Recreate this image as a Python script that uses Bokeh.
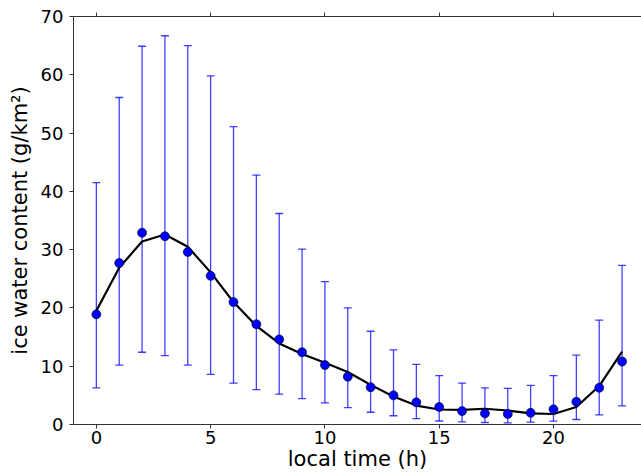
from bokeh.plotting import figure
from bokeh.models import ColumnDataSource, Whisker, TeeHead, LinearAxis, Range1d, FixedTicker
from bokeh.embed import file_html
from bokeh.resources import INLINE

hours = list(range(24))
iwc_mean = [18.9, 27.7, 32.9, 32.3, 29.6, 25.5, 21.0, 17.2, 14.6, 12.4, 10.2, 8.2,
            6.4, 5.0, 3.8, 3.0, 2.3, 1.9, 1.8, 2.0, 2.6, 3.9, 6.3, 10.8]
iwc_upper = [41.5, 56.1, 64.9, 66.7, 65.0, 59.8, 51.1, 42.8, 36.2, 30.1, 24.5, 20.0,
             16.0, 12.8, 10.3, 8.4, 7.1, 6.3, 6.2, 6.7, 8.4, 11.9, 17.9, 27.3]
iwc_lower = [6.3, 10.2, 12.4, 11.8, 10.2, 8.6, 7.1, 6.0, 5.2, 4.45, 3.7, 2.9,
             2.1, 1.5, 1.0, 0.6, 0.45, 0.34, 0.28, 0.4, 0.57, 0.86, 1.65, 3.2]
iwc_fit = [19.5, 26.9, 31.4, 32.6, 30.5, 26.1, 21.0, 16.9, 13.9, 12.1, 10.6, 9.0,
           6.8, 4.8, 3.25, 2.57, 2.5, 2.7, 2.4, 1.9, 1.8, 3.0, 6.6, 12.5]
x_ticks = [0, 5, 10, 15, 20]
y_ticks = [0, 10, 20, 30, 40, 50, 60, 70]

src = ColumnDataSource(dict(x=hours, y=iwc_mean, up=iwc_upper, lo=iwc_lower))

p = figure(width=641, height=476, output_backend="svg", toolbar_location=None,
           x_range=Range1d(-1, 23.85), y_range=Range1d(0, 70),
           min_border_left=73, min_border_right=0, min_border_top=16, min_border_bottom=52)
p.outline_line_color = None
p.grid.visible = False
p.background_fill_color = "white"
p.border_fill_color = "white"

font = "DejaVu Sans"
for ax in (p.xaxis[0], p.yaxis[0]):
    ax.major_label_text_font = font
    ax.major_label_text_font_size = "18px"
    ax.major_label_text_color = "black"
    ax.axis_label_text_font = font
    ax.axis_label_text_font_size = "21px"
    ax.axis_label_text_font_style = "normal"
    ax.axis_label_text_color = "black"
    ax.minor_tick_line_color = None
    ax.major_tick_out = 4
    ax.major_tick_in = 0
    ax.axis_line_color = "#333333"
    ax.major_tick_line_color = "#333333"
p.xaxis.ticker = FixedTicker(ticks=x_ticks)
p.yaxis.ticker = FixedTicker(ticks=y_ticks)
p.xaxis.axis_label = "local time (h)"
p.yaxis.axis_label = "ice water content (g/km\u00b2)"
p.xaxis.axis_label_standoff = 0
p.yaxis.axis_label_standoff = 6
p.xaxis.major_label_standoff = 2
p.yaxis.major_label_standoff = 6

top = LinearAxis(ticker=FixedTicker(ticks=x_ticks), major_label_text_font_size="1px",
                 major_label_text_alpha=0, major_label_standoff=0,
                 major_tick_out=4, major_tick_in=0, minor_tick_line_color=None,
                 axis_line_color="#333333", major_tick_line_color="#333333")
p.add_layout(top, "above")

w = Whisker(source=src, base="x", upper="up", lower="lo", line_color="blue", line_alpha=0.75,
            line_width=1.3,
            upper_head=TeeHead(size=8, line_color="blue", line_alpha=0.75, line_width=1.3),
            lower_head=TeeHead(size=8, line_color="blue", line_alpha=0.75, line_width=1.3))
p.add_layout(w)

p.line(hours, iwc_fit, line_color="black", line_width=2.2)
p.scatter("x", "y", source=src, size=9, fill_color="blue", line_color="black", line_width=0.6)

open("out.html", "w").write(file_html(p, INLINE))
